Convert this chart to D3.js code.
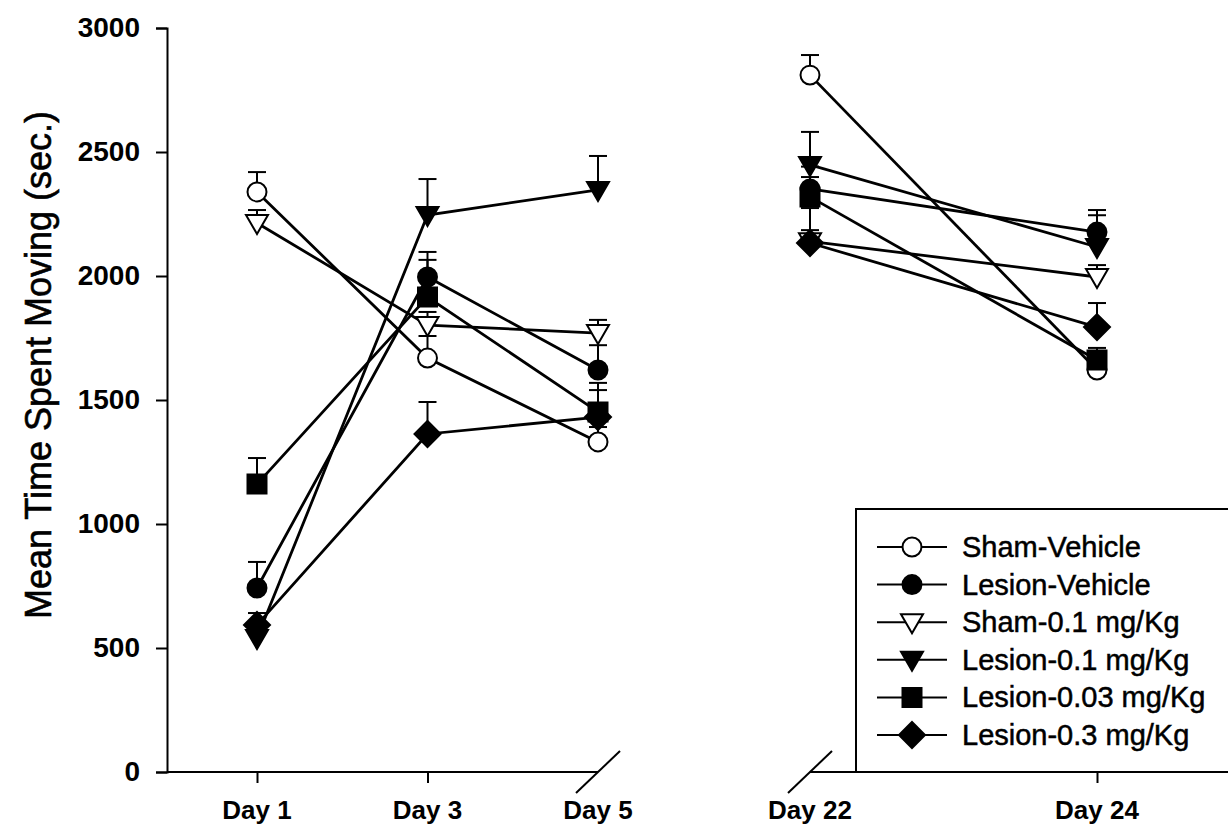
<!DOCTYPE html>
<html>
<head>
<meta charset="utf-8">
<script src="https://cdn.jsdelivr.net/npm/d3@7"></script>
<style>
  body { margin: 0; background: #fff; }
  svg { display: block; }
  text { font-family: "Liberation Sans", Arial, sans-serif; fill: #000; }
</style>
</head>
<body>
<svg id="chart" width="1228" height="830"></svg>
<script>
// days on the x axis, split in two panels by an axis break
var leftDays = [1, 3, 5];
var rightDays = [22, 24];
var dayLabels = ["Day 1", "Day 3", "Day 5", "Day 22", "Day 24"];
var yTicks = [0, 500, 1000, 1500, 2000, 2500, 3000];

// series names and symbols
var seriesNames = ["Sham-Vehicle", "Lesion-Vehicle", "Sham-0.1 mg/Kg",
  "Lesion-0.1 mg/Kg", "Lesion-0.03 mg/Kg", "Lesion-0.3 mg/Kg"];
var seriesShapes = ["circle", "circle", "triangle", "triangle", "square", "diamond"];
var seriesFilled = [false, true, false, true, true, true];

// mean values for Day 1, 3, 5, 22, 24
var shamVehicle   = [2339, 1669, 1331, 2810, 1621];
var lesionVehicle = [742, 1996, 1621, 2351, 2177];
var sham01        = [2214, 1802, 1770, 2140, 1996];
var lesion01      = [540, 2246, 2347, 2448, 2117];
var lesion003     = [1161, 1915, 1452, 2319, 1661];
var lesion03      = [593, 1363, 1431, 2133, 1794];

// standard errors (upper bars only)
var shamVehicleSE   = [80, 89, 60, 81, 50];
var lesionVehicleSE = [105, 101, 100, 90, 89];
var sham01SE        = [52, 53, 53, 45, 48];
var lesion01SE      = [40, 145, 137, 133, 128];
var lesion003SE     = [105, 150, 117, 80, 49];
var lesion03SE      = [48, 129, 109, 141, 97];

var allDays = leftDays.concat(rightDays);
var means = [shamVehicle, lesionVehicle, sham01, lesion01, lesion003, lesion03];
var errs = [shamVehicleSE, lesionVehicleSE, sham01SE, lesion01SE, lesion003SE, lesion03SE];

var svg = d3.select("#chart");

var axisX0 = 167, axisY0 = 772;
var y = d3.scaleLinear().domain([0, 3000]).range([772, 28]);
var xL = d3.scaleLinear().domain([1, 5]).range([257, 598]);
var xR = d3.scaleLinear().domain([22, 24]).range([810, 1097]);
var xOf = function(day) { return day < 10 ? xL(day) : xR(day); };

// y axis
var yAxis = svg.append("g")
  .attr("transform", "translate(" + axisX0 + ",0)")
  .call(d3.axisLeft(y).tickValues(yTicks).tickSize(11).tickPadding(16)
    .tickFormat(d3.format("d")));
yAxis.select(".domain").attr("stroke-width", 2);
yAxis.selectAll(".tick line").attr("stroke-width", 2);
yAxis.selectAll(".tick text")
  .style("font-size", "28px").style("font-weight", "bold");

// x axis, left piece
var xAxisL = svg.append("g")
  .attr("transform", "translate(0," + axisY0 + ")")
  .call(d3.axisBottom(xL).tickValues([1, 3]).tickSize(11).tickFormat(""));
xAxisL.select(".domain").remove();
xAxisL.selectAll(".tick line").attr("stroke-width", 2);
xAxisL.append("line")
  .attr("x1", axisX0).attr("x2", xL(5)).attr("y1", 0).attr("y2", 0)
  .attr("stroke", "#000").attr("stroke-width", 2);

// x axis, right piece
var xAxisR = svg.append("g")
  .attr("transform", "translate(0," + axisY0 + ")")
  .call(d3.axisBottom(xR).tickValues([24]).tickSize(11).tickFormat(""));
xAxisR.select(".domain").remove();
xAxisR.selectAll(".tick line").attr("stroke-width", 2);
xAxisR.append("line")
  .attr("x1", xR(22)).attr("x2", 1228).attr("y1", 0).attr("y2", 0)
  .attr("stroke", "#000").attr("stroke-width", 2);

// break slashes
[xL(5), xR(22)].forEach(function(bx) {
  svg.append("line")
    .attr("x1", bx - 22).attr("y1", axisY0 + 21)
    .attr("x2", bx + 22).attr("y2", axisY0 - 21)
    .attr("stroke", "#000").attr("stroke-width", 2);
});

// day labels
svg.selectAll(".day-label")
  .data(allDays)
  .enter().append("text")
  .attr("class", "day-label")
  .attr("x", function(d) { return xOf(d); })
  .attr("y", 819)
  .attr("text-anchor", "middle")
  .style("font-size", "26px").style("font-weight", "bold")
  .text(function(d, i) { return dayLabels[i]; });

// y title
svg.append("text")
  .attr("transform", "translate(38,365) rotate(-90)")
  .attr("text-anchor", "middle")
  .attr("dominant-baseline", "central")
  .style("font-size", "36px")
  .attr("stroke", "#000").attr("stroke-width", 0.6)
  .text("Mean Time Spent Moving (sec.)");

function shapePath(shape) {
  if (shape == "circle") return d3.symbol().type(d3.symbolCircle).size(Math.PI * 90)();
  if (shape == "square") return "M-9.5,-9.5H9.5V9.5H-9.5Z";
  if (shape == "diamond") return "M0,-13L13,0L0,13L-13,0Z";
  // downward triangle
  return "M-11,-8L11,-8L0,11Z";
}

// lines
var line = d3.line().x(function(d) { return xOf(d.day); }).y(function(d) { return y(d.v); });
means.forEach(function(vals, s) {
  var pts = allDays.map(function(d, i) { return {day: d, v: vals[i]}; });
  [pts.slice(0, 3), pts.slice(3)].forEach(function(seg) {
    svg.append("path").datum(seg)
      .attr("d", line)
      .attr("fill", "none").attr("stroke", "#000").attr("stroke-width", 2.8);
  });
});

// error bars
means.forEach(function(vals, s) {
  var g = svg.append("g").attr("class", "err");
  allDays.forEach(function(d, i) {
    var cx = xOf(d), top = y(vals[i] + errs[s][i]);
    g.append("line").attr("x1", cx).attr("x2", cx)
      .attr("y1", y(vals[i])).attr("y2", top)
      .attr("stroke", "#000").attr("stroke-width", 2);
    g.append("line").attr("x1", cx - 9).attr("x2", cx + 9)
      .attr("y1", top).attr("y2", top)
      .attr("stroke", "#000").attr("stroke-width", 2);
  });
});

// markers
means.forEach(function(vals, s) {
  svg.append("g").selectAll("path")
    .data(vals)
    .enter().append("path")
    .attr("d", shapePath(seriesShapes[s]))
    .attr("transform", function(v, i) {
      return "translate(" + xOf(allDays[i]) + "," + y(v) + ")";
    })
    .attr("fill", seriesFilled[s] ? "#000" : "#fff")
    .attr("stroke", "#000").attr("stroke-width", 2);
});

// legend
var legend = svg.append("g");
legend.append("rect")
  .attr("x", 856).attr("y", 509).attr("width", 400).attr("height", axisY0 - 509)
  .attr("fill", "#fff").attr("stroke", "#000").attr("stroke-width", 2);
var ly = d3.scaleLinear().domain([0, 5]).range([547, 735]);
seriesNames.forEach(function(name, s) {
  var row = legend.append("g").attr("transform", "translate(0," + ly(s) + ")");
  row.append("line").attr("x1", 877).attr("x2", 947).attr("y1", 0).attr("y2", 0)
    .attr("stroke", "#000").attr("stroke-width", 2);
  row.append("path")
    .attr("d", shapePath(seriesShapes[s]))
    .attr("transform", "translate(912,0)")
    .attr("fill", seriesFilled[s] ? "#000" : "#fff")
    .attr("stroke", "#000").attr("stroke-width", 2);
  row.append("text")
    .attr("x", 962).attr("y", 0)
    .attr("dominant-baseline", "central")
    .style("font-size", "29px")
    .attr("stroke", "#000").attr("stroke-width", 0.5)
    .text(name);
});
</script>
</body>
</html>
